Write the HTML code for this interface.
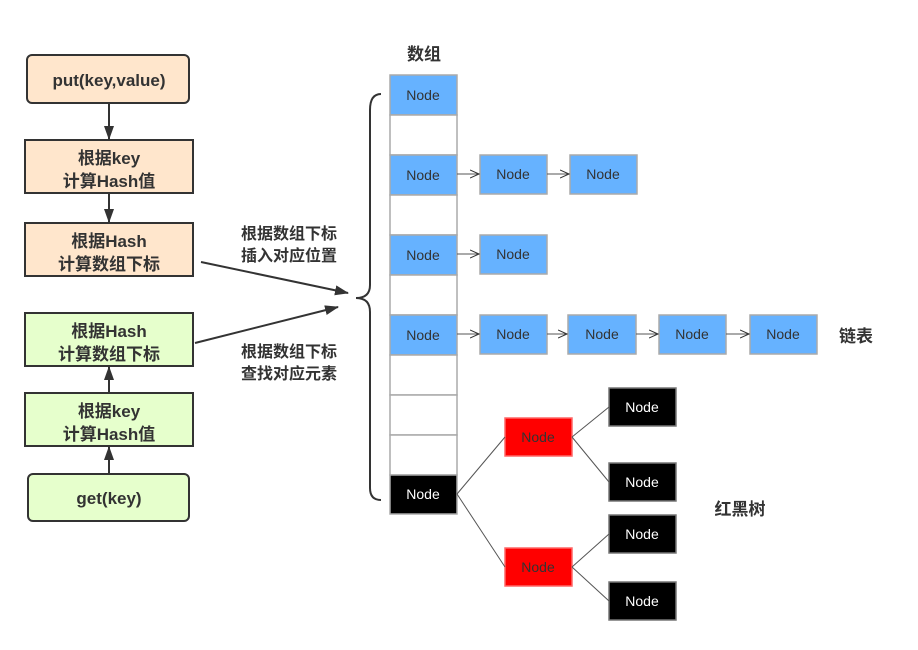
<!DOCTYPE html><html><head><meta charset="utf-8"><style>body{margin:0;background:#fff}text{font-family:"Liberation Sans","Noto Sans CJK SC",sans-serif}</style></head><body>
<svg width="918" height="645" xmlns="http://www.w3.org/2000/svg">
<defs><marker id="a" markerWidth="14" markerHeight="14" refX="13" refY="7" orient="auto" markerUnits="userSpaceOnUse"><path d="M0,2 L14,7 L0,12 Z" fill="#333"/></marker>
<marker id="s" markerWidth="10" markerHeight="10" refX="9" refY="5" orient="auto" markerUnits="userSpaceOnUse"><path d="M0,1 L9,5 L0,9" fill="none" stroke="#333"/></marker></defs>
<g stroke="#333" stroke-width="2" font-weight="bold" font-size="17" fill="#333" text-anchor="middle">
<rect x="27" y="55" width="162" height="48" rx="5" fill="#FFE6CC"/>
<rect x="25" y="140" width="168" height="53" fill="#FFE6CC"/>
<rect x="25" y="223" width="168" height="53" fill="#FFE6CC"/>
<rect x="25" y="313" width="168" height="53" fill="#E6FFCC"/>
<rect x="25" y="393" width="168" height="53" fill="#E6FFCC"/>
<rect x="28" y="474" width="161" height="47" rx="5" fill="#E6FFCC"/>
<line x1="109" y1="103" x2="109" y2="139" marker-end="url(#a)"/>
<line x1="109" y1="193" x2="109" y2="222" marker-end="url(#a)"/>
<line x1="109" y1="393" x2="109" y2="367" marker-end="url(#a)"/>
<line x1="109" y1="474" x2="109" y2="447" marker-end="url(#a)"/>
<line x1="201" y1="262" x2="348" y2="293" marker-end="url(#a)"/>
<line x1="195" y1="343" x2="338" y2="307" marker-end="url(#a)"/>
<path d="M381,94 Q370,94 370,110 L370,285 Q370,298 356,298 Q370,298 370,312 L370,488 Q370,500 381,500" fill="none"/>
<g stroke="none">
<text x="109" y="86">put(key,value)</text>
<text x="109" y="164">根据key</text><text x="109" y="187">计算Hash值</text>
<text x="109" y="247">根据Hash</text><text x="109" y="270">计算数组下标</text>
<text x="109" y="337">根据Hash</text><text x="109" y="360">计算数组下标</text>
<text x="109" y="417">根据key</text><text x="109" y="440">计算Hash值</text>
<text x="109" y="504">get(key)</text>
<text x="289" y="239" font-size="16">根据数组下标</text><text x="289" y="261" font-size="16">插入对应位置</text>
<text x="289" y="357" font-size="16">根据数组下标</text><text x="289" y="379" font-size="16">查找对应元素</text>
<text x="424" y="60">数组</text>
<text x="856" y="342">链表</text>
<text x="740" y="515">红黑树</text>
</g></g>
<g stroke="#aaa" stroke-width="1.5" fill="#fff">
<rect x="390" y="75" width="67" height="40" fill="#66B2FF"/>
<rect x="390" y="115" width="67" height="40"/>
<rect x="390" y="155" width="67" height="40" fill="#66B2FF"/>
<rect x="390" y="195" width="67" height="40"/>
<rect x="390" y="235" width="67" height="40" fill="#66B2FF"/>
<rect x="390" y="275" width="67" height="40"/>
<rect x="390" y="315" width="67" height="40" fill="#66B2FF"/>
<rect x="390" y="355" width="67" height="40"/>
<rect x="390" y="395" width="67" height="40"/>
<rect x="390" y="435" width="67" height="40"/>
<rect x="390" y="475" width="67" height="39" fill="#000"/>
<g fill="#66B2FF">
<rect x="480" y="155" width="67" height="39"/><rect x="570" y="155" width="67" height="39"/>
<rect x="480" y="235" width="67" height="39"/>
<rect x="480" y="315" width="67" height="39"/><rect x="568" y="315" width="68" height="39"/><rect x="659" y="315" width="67" height="39"/><rect x="750" y="315" width="67" height="39"/>
</g>
<g fill="#f00" stroke="#f66"><rect x="505" y="418" width="67" height="38"/><rect x="505" y="548" width="67" height="38"/></g>
<g fill="#000" stroke="#777"><rect x="609" y="388" width="67" height="38"/><rect x="609" y="463" width="67" height="38"/><rect x="609" y="515" width="67" height="38"/><rect x="609" y="582" width="67" height="38"/></g>
</g>
<g stroke="#555" stroke-width="1" fill="none">
<line x1="457" y1="174" x2="479" y2="174" marker-end="url(#s)"/>
<line x1="547" y1="174" x2="569" y2="174" marker-end="url(#s)"/>
<line x1="457" y1="254" x2="479" y2="254" marker-end="url(#s)"/>
<line x1="457" y1="334" x2="479" y2="334" marker-end="url(#s)"/>
<line x1="547" y1="334" x2="567" y2="334" marker-end="url(#s)"/>
<line x1="636" y1="334" x2="658" y2="334" marker-end="url(#s)"/>
<line x1="726" y1="334" x2="749" y2="334" marker-end="url(#s)"/>
<path d="M457,494 L505,437 M457,494 L505,567 M572,437 L609,407 M572,437 L609,482 M572,567 L609,534 M572,567 L609,601"/>
</g>
<g font-size="14" text-anchor="middle" fill="#333">
<text x="423" y="100">Node</text><text x="423" y="180">Node</text><text x="423" y="260">Node</text><text x="423" y="340">Node</text>
<text x="513" y="179">Node</text><text x="603" y="179">Node</text><text x="513" y="259">Node</text>
<text x="513" y="339">Node</text><text x="602" y="339">Node</text><text x="692" y="339">Node</text><text x="783" y="339">Node</text>
<text x="538" y="442">Node</text><text x="538" y="572">Node</text>
<g fill="#fff"><text x="423" y="499">Node</text><text x="642" y="412">Node</text><text x="642" y="487">Node</text><text x="642" y="539">Node</text><text x="642" y="606">Node</text></g>
</g>
</svg></body></html>
